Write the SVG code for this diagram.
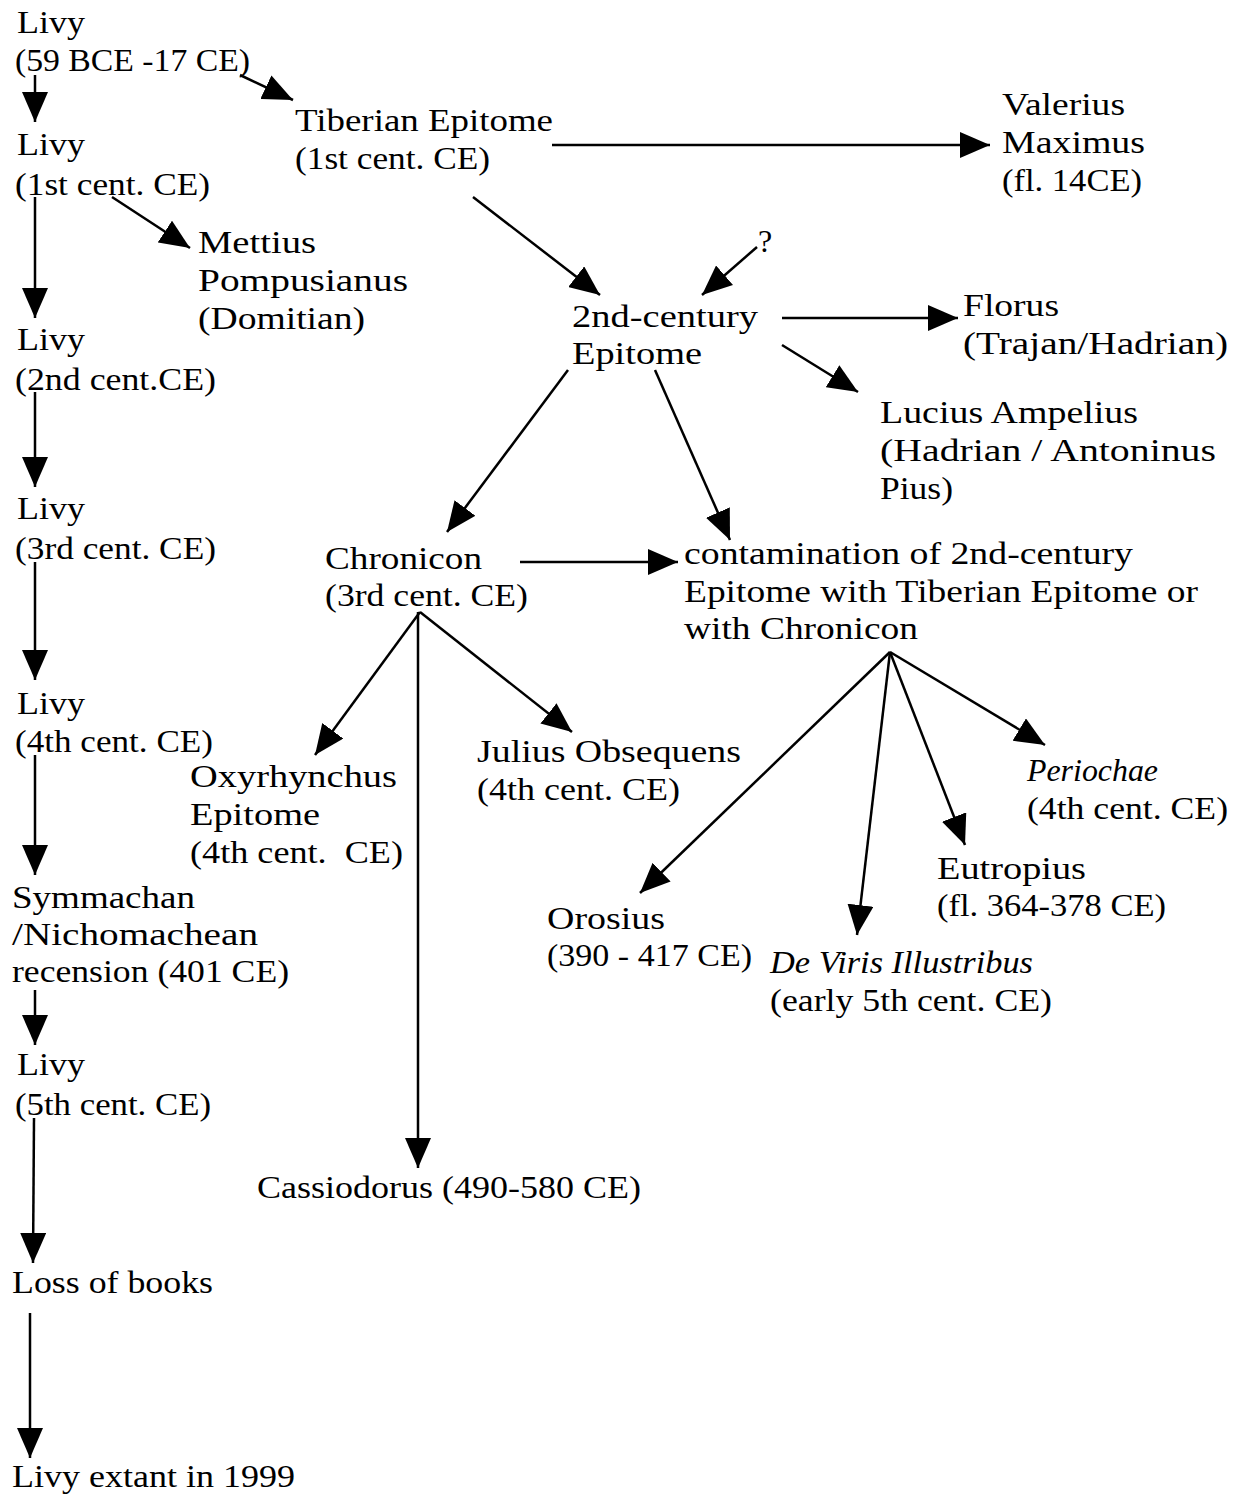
<svg xmlns="http://www.w3.org/2000/svg" width="1246" height="1496" viewBox="0 0 1246 1496">
<style>
text{font-family:"Liberation Serif","DejaVu Serif",serif;font-size:32px;fill:#000;}
.i{font-style:italic;}
.c line{stroke:#000;stroke-width:2.5;fill:none;marker-end:url(#ah);}
</style>
<defs>
<marker id="ah" markerUnits="userSpaceOnUse" markerWidth="30" markerHeight="26" refX="30" refY="13" orient="auto">
<path d="M0,0 L30,13 L0,26 z" fill="#000"/>
</marker>
</defs>
<rect width="1246" height="1496" fill="#fff"/>
<g class="c" id="connectors">
<line x1="35" y1="75" x2="35" y2="122"/>
<line x1="240" y1="75" x2="293" y2="100"/>
<line x1="35" y1="197" x2="35" y2="318"/>
<line x1="112" y1="197" x2="190" y2="248"/>
<line x1="35" y1="392" x2="35" y2="487"/>
<line x1="35" y1="562" x2="35" y2="680"/>
<line x1="35" y1="755" x2="35" y2="875"/>
<line x1="35" y1="990" x2="35" y2="1045"/>
<line x1="34" y1="1118" x2="33" y2="1263"/>
<line x1="30" y1="1313" x2="30" y2="1458"/>
<line x1="552" y1="145" x2="990" y2="145"/>
<line x1="473" y1="197" x2="600" y2="295"/>
<line x1="757" y1="247" x2="702" y2="295"/>
<line x1="782" y1="318" x2="958" y2="318"/>
<line x1="782" y1="345" x2="858" y2="392"/>
<line x1="568" y1="370" x2="447" y2="532"/>
<line x1="655" y1="370" x2="730" y2="540"/>
<line x1="520" y1="562" x2="678" y2="562"/>
<line x1="420" y1="612" x2="315" y2="755"/>
<line x1="418" y1="612" x2="418" y2="1168"/>
<line x1="420" y1="612" x2="572" y2="732"/>
<line x1="890" y1="652" x2="640" y2="893"/>
<line x1="890" y1="652" x2="857" y2="935"/>
<line x1="890" y1="652" x2="965" y2="845"/>
<line x1="890" y1="652" x2="1045" y2="745"/>
</g>
<g id="livy59"><text x="17" y="33" textLength="68" lengthAdjust="spacingAndGlyphs">Livy</text><text x="15" y="71" textLength="235" lengthAdjust="spacingAndGlyphs">(59 BCE -17 CE)</text></g>
<g id="livy1"><text x="17" y="155" textLength="68" lengthAdjust="spacingAndGlyphs">Livy</text><text x="15" y="195" textLength="195" lengthAdjust="spacingAndGlyphs">(1st cent. CE)</text></g>
<g id="livy2"><text x="17" y="350" textLength="68" lengthAdjust="spacingAndGlyphs">Livy</text><text x="15" y="390" textLength="201" lengthAdjust="spacingAndGlyphs">(2nd cent.CE)</text></g>
<g id="livy3"><text x="17" y="519" textLength="68" lengthAdjust="spacingAndGlyphs">Livy</text><text x="15" y="559" textLength="201" lengthAdjust="spacingAndGlyphs">(3rd cent. CE)</text></g>
<g id="livy4"><text x="17" y="714" textLength="68" lengthAdjust="spacingAndGlyphs">Livy</text><text x="15" y="752" textLength="198" lengthAdjust="spacingAndGlyphs">(4th cent. CE)</text></g>
<g id="symmachan"><text x="12" y="908" textLength="183" lengthAdjust="spacingAndGlyphs">Symmachan</text><text x="12" y="945" textLength="246" lengthAdjust="spacingAndGlyphs">/Nichomachean</text><text x="12" y="982" textLength="277" lengthAdjust="spacingAndGlyphs">recension (401 CE)</text></g>
<g id="livy5"><text x="17" y="1075" textLength="68" lengthAdjust="spacingAndGlyphs">Livy</text><text x="15" y="1115" textLength="196" lengthAdjust="spacingAndGlyphs">(5th cent. CE)</text></g>
<g id="loss"><text x="12" y="1293" textLength="201" lengthAdjust="spacingAndGlyphs">Loss of books</text></g>
<g id="extant"><text x="12" y="1487" textLength="283" lengthAdjust="spacingAndGlyphs">Livy extant in 1999</text></g>
<g id="tiberian"><text x="295" y="131" textLength="258" lengthAdjust="spacingAndGlyphs">Tiberian Epitome</text><text x="295" y="169" textLength="195" lengthAdjust="spacingAndGlyphs">(1st cent. CE)</text></g>
<g id="valerius"><text x="1002" y="115" textLength="123" lengthAdjust="spacingAndGlyphs">Valerius</text><text x="1002" y="153" textLength="143" lengthAdjust="spacingAndGlyphs">Maximus</text><text x="1002" y="191" textLength="140" lengthAdjust="spacingAndGlyphs">(fl. 14CE)</text></g>
<g id="mettius"><text x="198" y="253" textLength="118" lengthAdjust="spacingAndGlyphs">Mettius</text><text x="198" y="291" textLength="210" lengthAdjust="spacingAndGlyphs">Pompusianus</text><text x="198" y="329" textLength="167" lengthAdjust="spacingAndGlyphs">(Domitian)</text></g>
<g id="question"><text x="758" y="252" font-size="26">?</text></g>
<g id="epitome2"><text x="572" y="327" textLength="186" lengthAdjust="spacingAndGlyphs">2nd-century</text><text x="572" y="364" textLength="130" lengthAdjust="spacingAndGlyphs">Epitome</text></g>
<g id="florus"><text x="963" y="316" textLength="96" lengthAdjust="spacingAndGlyphs">Florus</text><text x="963" y="354" textLength="265" lengthAdjust="spacingAndGlyphs">(Trajan/Hadrian)</text></g>
<g id="lucius"><text x="880" y="423" textLength="258" lengthAdjust="spacingAndGlyphs">Lucius Ampelius</text><text x="880" y="461" textLength="336" lengthAdjust="spacingAndGlyphs">(Hadrian / Antoninus</text><text x="880" y="499" textLength="73" lengthAdjust="spacingAndGlyphs">Pius)</text></g>
<g id="chronicon"><text x="325" y="569" textLength="157" lengthAdjust="spacingAndGlyphs">Chronicon</text><text x="325" y="606" textLength="203" lengthAdjust="spacingAndGlyphs">(3rd cent. CE)</text></g>
<g id="contamination"><text x="684" y="564" textLength="449" lengthAdjust="spacingAndGlyphs">contamination of 2nd-century</text><text x="684" y="602" textLength="514" lengthAdjust="spacingAndGlyphs">Epitome with Tiberian Epitome or</text><text x="684" y="639" textLength="234" lengthAdjust="spacingAndGlyphs">with Chronicon</text></g>
<g id="oxyrhynchus"><text x="190" y="787" textLength="207" lengthAdjust="spacingAndGlyphs">Oxyrhynchus</text><text x="190" y="825" textLength="130" lengthAdjust="spacingAndGlyphs">Epitome</text><text x="190" y="863" textLength="213" lengthAdjust="spacingAndGlyphs" xml:space="preserve">(4th cent.  CE)</text></g>
<g id="julius"><text x="477" y="762" textLength="264" lengthAdjust="spacingAndGlyphs">Julius Obsequens</text><text x="477" y="800" textLength="203" lengthAdjust="spacingAndGlyphs">(4th cent. CE)</text></g>
<g id="cassiodorus"><text x="257" y="1198" textLength="384" lengthAdjust="spacingAndGlyphs">Cassiodorus (490-580 CE)</text></g>
<g id="periochae"><text class="i" x="1027" y="781" textLength="131" lengthAdjust="spacingAndGlyphs">Periochae</text><text x="1027" y="819" textLength="201" lengthAdjust="spacingAndGlyphs">(4th cent. CE)</text></g>
<g id="eutropius"><text x="937" y="879" textLength="149" lengthAdjust="spacingAndGlyphs">Eutropius</text><text x="937" y="916" textLength="229" lengthAdjust="spacingAndGlyphs">(fl. 364-378 CE)</text></g>
<g id="orosius"><text x="547" y="929" textLength="118" lengthAdjust="spacingAndGlyphs">Orosius</text><text x="547" y="966" textLength="205" lengthAdjust="spacingAndGlyphs">(390 - 417 CE)</text></g>
<g id="deviris"><text class="i" x="770" y="973" textLength="263" lengthAdjust="spacingAndGlyphs">De Viris Illustribus</text><text x="770" y="1011" textLength="282" lengthAdjust="spacingAndGlyphs">(early 5th cent. CE)</text></g>
</svg>
